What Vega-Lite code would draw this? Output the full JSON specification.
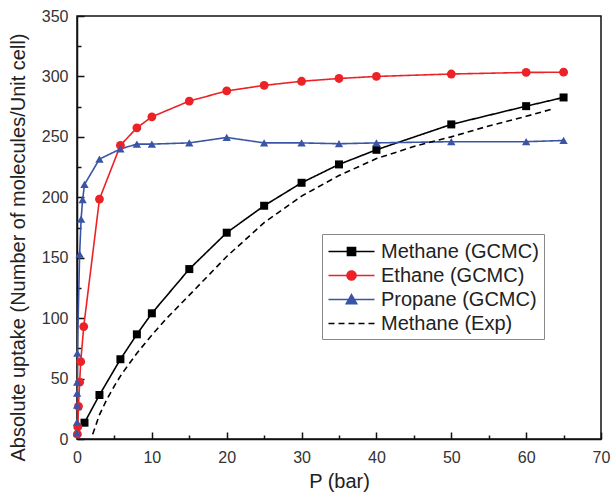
{
  "$schema": "https://vega.github.io/schema/vega-lite/v6.json",
  "width": 524,
  "height": 423,
  "autosize": "none",
  "padding": {"left": 77, "top": 16, "right": 10, "bottom": 57},
  "background": "white",
  "config": {
    "font": "Liberation Sans",
    "view": {"stroke": "#111", "strokeWidth": 1.5},
    "axis": {"grid": false, "domainColor": "#111", "domainWidth": 1.5, "tickColor": "#111", "tickWidth": 1.5, "labelFont": "Liberation Sans", "labelFontSize": 16, "labelColor": "#333", "titleFont": "Liberation Sans", "titleFontSize": 20, "titleFontWeight": "normal", "titleColor": "#222"}
  },
  "data": {"values": [
    {"series": "Methane (GCMC)", "P": 1, "uptake": 13.5},
    {"series": "Methane (GCMC)", "P": 3, "uptake": 36.4},
    {"series": "Methane (GCMC)", "P": 5.8, "uptake": 66},
    {"series": "Methane (GCMC)", "P": 8, "uptake": 86.6},
    {"series": "Methane (GCMC)", "P": 10, "uptake": 104},
    {"series": "Methane (GCMC)", "P": 15, "uptake": 140.6},
    {"series": "Methane (GCMC)", "P": 20, "uptake": 170.7},
    {"series": "Methane (GCMC)", "P": 25, "uptake": 193},
    {"series": "Methane (GCMC)", "P": 30, "uptake": 212},
    {"series": "Methane (GCMC)", "P": 35, "uptake": 227.2},
    {"series": "Methane (GCMC)", "P": 40, "uptake": 239.3},
    {"series": "Methane (GCMC)", "P": 50, "uptake": 260.3},
    {"series": "Methane (GCMC)", "P": 60, "uptake": 275.4},
    {"series": "Methane (GCMC)", "P": 65, "uptake": 282.6},
    {"series": "Ethane (GCMC)", "P": 0.05, "uptake": 4},
    {"series": "Ethane (GCMC)", "P": 0.1, "uptake": 10},
    {"series": "Ethane (GCMC)", "P": 0.2, "uptake": 27},
    {"series": "Ethane (GCMC)", "P": 0.35, "uptake": 47},
    {"series": "Ethane (GCMC)", "P": 0.5, "uptake": 64},
    {"series": "Ethane (GCMC)", "P": 0.9, "uptake": 93},
    {"series": "Ethane (GCMC)", "P": 3, "uptake": 198.5},
    {"series": "Ethane (GCMC)", "P": 5.8, "uptake": 243},
    {"series": "Ethane (GCMC)", "P": 8, "uptake": 257.5},
    {"series": "Ethane (GCMC)", "P": 10, "uptake": 266.6},
    {"series": "Ethane (GCMC)", "P": 15, "uptake": 279.6},
    {"series": "Ethane (GCMC)", "P": 20, "uptake": 288},
    {"series": "Ethane (GCMC)", "P": 25, "uptake": 292.6},
    {"series": "Ethane (GCMC)", "P": 30, "uptake": 296},
    {"series": "Ethane (GCMC)", "P": 35, "uptake": 298.3},
    {"series": "Ethane (GCMC)", "P": 40, "uptake": 300},
    {"series": "Ethane (GCMC)", "P": 50, "uptake": 302},
    {"series": "Ethane (GCMC)", "P": 60, "uptake": 303.3},
    {"series": "Ethane (GCMC)", "P": 65, "uptake": 303.5},
    {"series": "Propane (GCMC)", "P": 0.002, "uptake": 5},
    {"series": "Propane (GCMC)", "P": 0.005, "uptake": 14},
    {"series": "Propane (GCMC)", "P": 0.01, "uptake": 28},
    {"series": "Propane (GCMC)", "P": 0.02, "uptake": 38},
    {"series": "Propane (GCMC)", "P": 0.03, "uptake": 47},
    {"series": "Propane (GCMC)", "P": 0.05, "uptake": 71},
    {"series": "Propane (GCMC)", "P": 0.35, "uptake": 153},
    {"series": "Propane (GCMC)", "P": 0.55, "uptake": 182},
    {"series": "Propane (GCMC)", "P": 0.75, "uptake": 198},
    {"series": "Propane (GCMC)", "P": 1, "uptake": 210.6},
    {"series": "Propane (GCMC)", "P": 3, "uptake": 231.6},
    {"series": "Propane (GCMC)", "P": 5.8, "uptake": 240},
    {"series": "Propane (GCMC)", "P": 8, "uptake": 244},
    {"series": "Propane (GCMC)", "P": 10, "uptake": 244},
    {"series": "Propane (GCMC)", "P": 15, "uptake": 245},
    {"series": "Propane (GCMC)", "P": 20, "uptake": 249.5},
    {"series": "Propane (GCMC)", "P": 25, "uptake": 245},
    {"series": "Propane (GCMC)", "P": 30, "uptake": 245},
    {"series": "Propane (GCMC)", "P": 35, "uptake": 244.3},
    {"series": "Propane (GCMC)", "P": 40, "uptake": 245},
    {"series": "Propane (GCMC)", "P": 50, "uptake": 246},
    {"series": "Propane (GCMC)", "P": 60, "uptake": 246},
    {"series": "Propane (GCMC)", "P": 65, "uptake": 247},
    {"series": "Methane (Exp)", "P": 2.1, "uptake": 4},
    {"series": "Methane (Exp)", "P": 3, "uptake": 20},
    {"series": "Methane (Exp)", "P": 4, "uptake": 33},
    {"series": "Methane (Exp)", "P": 5, "uptake": 44},
    {"series": "Methane (Exp)", "P": 6, "uptake": 54},
    {"series": "Methane (Exp)", "P": 8, "uptake": 71},
    {"series": "Methane (Exp)", "P": 10, "uptake": 86},
    {"series": "Methane (Exp)", "P": 12, "uptake": 100},
    {"series": "Methane (Exp)", "P": 15, "uptake": 119},
    {"series": "Methane (Exp)", "P": 20, "uptake": 151},
    {"series": "Methane (Exp)", "P": 25, "uptake": 179},
    {"series": "Methane (Exp)", "P": 30, "uptake": 201},
    {"series": "Methane (Exp)", "P": 35, "uptake": 218},
    {"series": "Methane (Exp)", "P": 40, "uptake": 232},
    {"series": "Methane (Exp)", "P": 45, "uptake": 242},
    {"series": "Methane (Exp)", "P": 50, "uptake": 250},
    {"series": "Methane (Exp)", "P": 55, "uptake": 259},
    {"series": "Methane (Exp)", "P": 60, "uptake": 267},
    {"series": "Methane (Exp)", "P": 63.5, "uptake": 273}
  ]},
  "resolve": {"axis": {"x": "independent", "y": "independent"}},
  "layer": [
    {
      "mark": {"type": "line", "strokeWidth": 1.6, "clip": true},
      "encoding": {
        "x": {"field": "P", "type": "quantitative", "scale": {"domain": [0, 70], "nice": false},
          "axis": {"orient": "bottom", "values": [0, 10, 20, 30, 40, 50, 60, 70], "tickSize": -7, "labelPadding": 17, "title": "P (bar)", "titlePadding": 6, "labelFlush": false}},
        "y": {"field": "uptake", "type": "quantitative", "scale": {"domain": [0, 350], "nice": false},
          "axis": {"orient": "left", "values": [0, 50, 100, 150, 200, 250, 300, 350], "tickSize": -7, "labelPadding": 16, "title": "Absolute uptake (Number of molecules/Unit cell)", "titleX": -49, "titleY": 231, "labelFlush": false}},
        "color": {"field": "series", "type": "nominal",
          "scale": {"domain": ["Methane (GCMC)", "Ethane (GCMC)", "Propane (GCMC)", "Methane (Exp)"], "range": ["#000000", "#ec2227", "#3a55a6", "#000000"]},
          "legend": {
            "title": null, "orient": "none", "legendX": 245, "legendY": 218,
            "labelFont": "Liberation Sans", "labelFontSize": 20, "labelColor": "#222",
            "symbolSize": 529, "symbolOffset": 12, "labelOffset": 17, "padding": 5, "rowPadding": 1,
            "strokeColor": "#888", "fillColor": "white",
            "encode": {"symbols": {"update": {
              "shape": {"signal": "datum.value === 'Methane (GCMC)' ? 'M-2,0H2M-0.35,-0.35H0.35V0.35H-0.35Z' : datum.value === 'Ethane (GCMC)' ? 'M-2,0H2M-0.39,0A0.39,0.39,0,1,0,0.39,0A0.39,0.39,0,1,0,-0.39,0Z' : datum.value === 'Propane (GCMC)' ? 'M-2,0H2M0,-0.42L0.45,0.36H-0.45Z' : 'M-2,0H2'"},
              "fill": {"signal": "datum.value === 'Ethane (GCMC)' ? '#ec2227' : datum.value === 'Propane (GCMC)' ? '#3a55a6' : '#000000'"},
              "stroke": {"signal": "datum.value === 'Ethane (GCMC)' ? '#ec2227' : datum.value === 'Propane (GCMC)' ? '#3a55a6' : '#000000'"},
              "strokeDash": {"signal": "datum.value === 'Methane (Exp)' ? [5, 4] : [1, 0]"},
              "strokeWidth": {"value": 1.6},
              "fillOpacity": {"value": 1},
              "opacity": {"value": 1}
            }}}
          }},
        "strokeDash": {"field": "series", "type": "nominal",
          "scale": {"domain": ["Methane (GCMC)", "Ethane (GCMC)", "Propane (GCMC)", "Methane (Exp)"], "range": [[1, 0], [1, 0], [1, 0], [6, 4]]},
          "legend": null}
      }
    },
    {
      "transform": [{"filter": "datum.series === 'Methane (GCMC)'"}],
      "mark": {"type": "point", "shape": "square", "filled": true, "opacity": 1, "size": 64, "color": "#000000"},
      "encoding": {
        "x": {"field": "P", "type": "quantitative",
          "axis": {"orient": "bottom", "values": [5, 15, 25, 35, 45, 55, 65], "tickSize": -4, "labels": false, "domain": false, "title": null}},
        "y": {"field": "uptake", "type": "quantitative",
          "axis": {"orient": "left", "values": [25, 75, 125, 175, 225, 275, 325], "tickSize": -4, "labels": false, "domain": false, "title": null}}
      }
    },
    {
      "transform": [{"filter": "datum.series === 'Ethane (GCMC)'"}],
      "mark": {"type": "point", "shape": "circle", "filled": true, "opacity": 1, "size": 78, "color": "#ec2227"},
      "encoding": {
        "x": {"field": "P", "type": "quantitative", "axis": null},
        "y": {"field": "uptake", "type": "quantitative", "axis": null}
      }
    },
    {
      "transform": [{"filter": "datum.series === 'Propane (GCMC)'"}],
      "mark": {"type": "point", "shape": "triangle-up", "filled": true, "opacity": 1, "size": 70, "color": "#3a55a6"},
      "encoding": {
        "x": {"field": "P", "type": "quantitative", "axis": null},
        "y": {"field": "uptake", "type": "quantitative", "axis": null}
      }
    }
  ]
}
